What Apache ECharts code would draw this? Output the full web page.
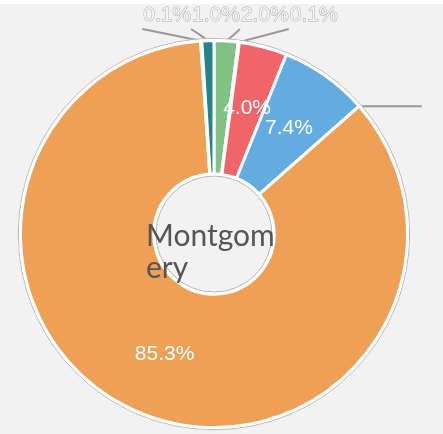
<!DOCTYPE html>
<html>
<head>
<meta charset="utf-8">
<script src="https://cdn.jsdelivr.net/npm/echarts@6/dist/echarts.min.js"></script>
<style>
  html, body { margin: 0; padding: 0; background: #ffffff; }
  #chart { position: absolute; left: 0; top: 4px; width: 443px; height: 430px; background: #f2f2f2; }
</style>
</head>
<body>
<div id="chart"></div>
<script>
// slices, clockwise from 12 o'clock
const sliceNames = ['Group A', 'Group B', 'Group C', 'Group D', 'Group E', 'Group F', 'Group G', 'Group H']
const sliceValues = [2.0, 0.1, 4.0, 7.4, 0.0, 85.3, 0.1, 1.0]
const sliceColors = ['#80c184', '#9a9a9a', '#f1646a', '#62ace2', '#cccccc', '#eea156', '#9a9a9a', '#23858a']
const centerLabel = 'Montgomery'

// small slices get their label outside
const outsideLabel = {
  position: 'outside',
  color: '#f6f6f6',
  fontSize: 21,
  fontFamily: 'Liberation Sans',
  textBorderColor: '#aaaaaa',
  textBorderWidth: 1
}

const chart = echarts.init(document.getElementById('chart'))

const data = sliceNames.map((name, i) => {
  const item = { name, value: sliceValues[i], itemStyle: { color: sliceColors[i] } }
  if (sliceValues[i] < 3) item.label = outsideLabel
  return item
})

// anchors of the small labels, filled on the first layout pass
const anchors = {}
const smallCount = sliceValues.filter(v => v > 0 && v < 3).length

const placeLabel = (params) => {
  const v = sliceValues[params.dataIndex]
  const anchor = params.labelLinePoints ? params.labelLinePoints[0] : null
  if (v >= 3 || !anchor) return { hideOverlap: false }
  if (v === 0) return { y: anchor[1], hideOverlap: false }
  anchors[params.dataIndex] = { x: anchor[0], y: anchor[1], w: params.labelRect.width }
  const known = Object.values(anchors)
  if (known.length < smallCount) return { y: 11, verticalAlign: 'middle', hideOverlap: false }
  // pack the small labels side by side in a row above the ring
  known.sort((a, b) => a.x - b.x)
  let left = known[0].x - 58
  let myLeft = left
  for (const k of known) {
    if (k.x === anchor[0]) myLeft = left
    left += k.w
  }
  return {
    x: myLeft,
    y: 11,
    align: 'left',
    verticalAlign: 'middle',
    hideOverlap: false,
    labelLinePoints: [
      [anchor[0], anchor[1]],
      [(anchor[0] + myLeft) / 2, (anchor[1] + 25) / 2],
      [myLeft - 1, 25]
    ]
  }
}

const option = {
  animation: false,
  graphic: [{
    type: 'text',
    z: 100,
    left: 146,
    top: 216,
    style: {
      text: centerLabel,
      width: 132,
      overflow: 'break',
      font: '30px Lato',
      lineHeight: 32,
      fill: '#555555'
    }
  }],
  series: [
    {
      // thin grey ring behind the slices
      type: 'pie',
      silent: true,
      center: ['48.3%', '53.5%'],
      radius: ['27%', '91%'],
      label: { show: false },
      labelLine: { show: false },
      itemStyle: { color: '#ffffff', borderColor: '#b5b5b5', borderWidth: 1 },
      data: [1]
    },
    {
      type: 'pie',
      startAngle: 90,
      center: ['48.3%', '53.5%'],
      radius: ['28%', '90%'],
      avoidLabelOverlap: false,
      itemStyle: { borderColor: '#ffffff', borderWidth: 3 },
      label: {
        position: 'inside',
        formatter: (p) => p.value > 0 ? p.value.toFixed(1) + '%' : '',
        color: '#ffffff',
        fontSize: 21,
        fontFamily: 'Liberation Sans'
      },
      labelLine: {
        show: true,
        length: 10,
        length2: 50,
        lineStyle: { color: '#999999', width: 2 }
      },
      labelLayout: placeLabel,
      data: data
    }
  ]
}

chart.setOption(option)
// second pass: all anchors are known now
chart.setOption(option, true)
</script>
</body>
</html>
